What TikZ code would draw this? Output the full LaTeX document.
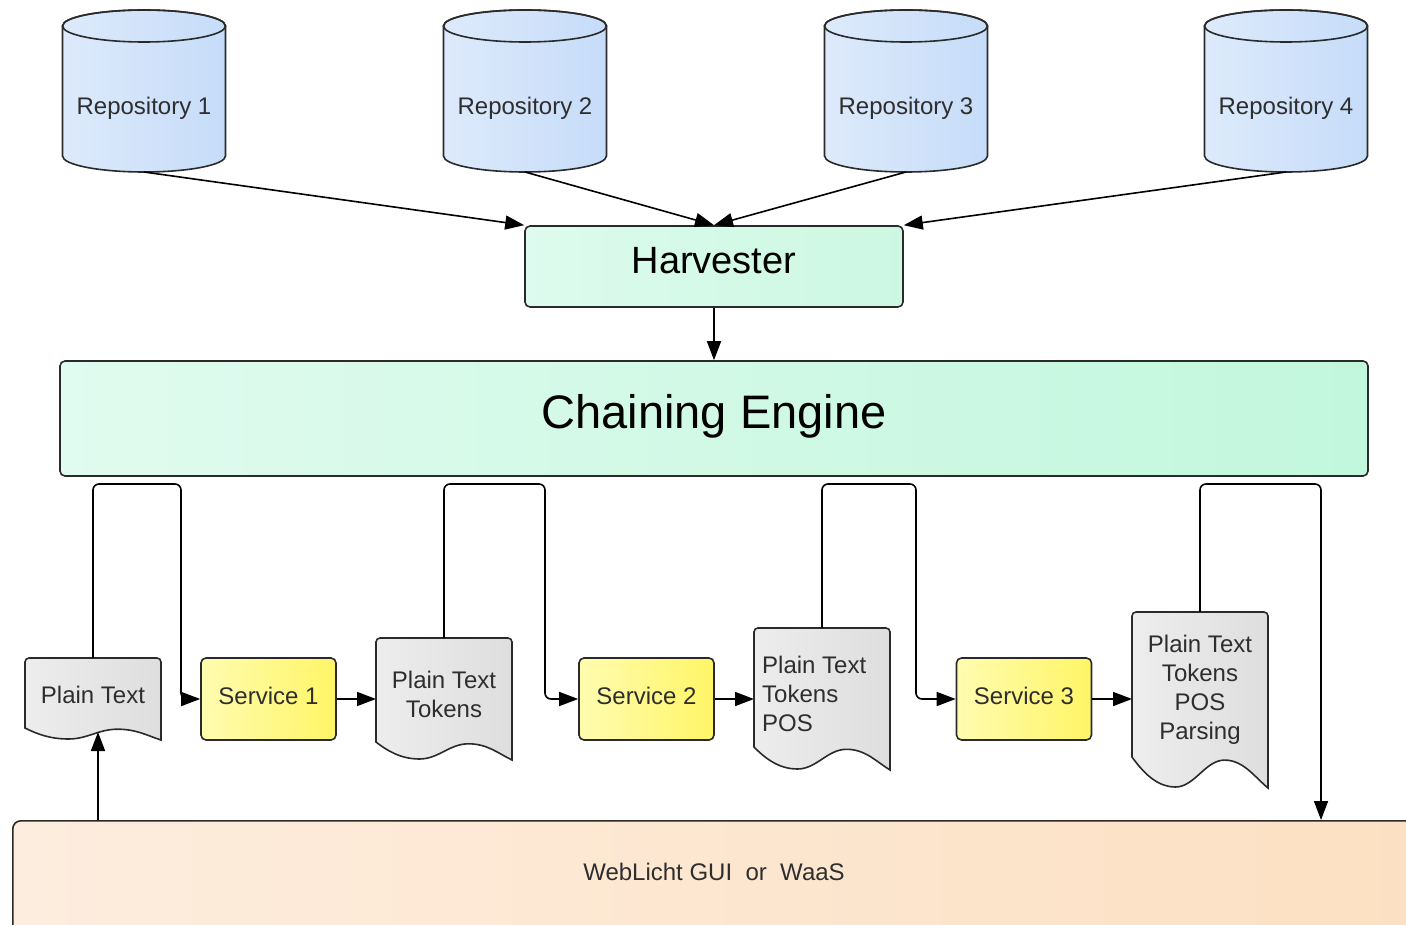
\documentclass[tikz,border=0pt]{standalone}
\usepackage{fontspec}
\setmainfont{Liberation Sans}
\usetikzlibrary{arrows.meta}
\definecolor{bord}{HTML}{2A2A2A}
\definecolor{txtc}{HTML}{2E2E2E}
\definecolor{repoL}{HTML}{DDEAFB}
\definecolor{repoR}{HTML}{C6DCF9}
\definecolor{harvL}{HTML}{DDFBEE}
\definecolor{harvR}{HTML}{CCF8E2}
\definecolor{chainL}{HTML}{E0FBEF}
\definecolor{chainR}{HTML}{C2F7DD}
\definecolor{servL}{HTML}{FFFCB0}
\definecolor{servR}{HTML}{FFF566}
\definecolor{docL}{HTML}{EDEDED}
\definecolor{docR}{HTML}{DEDEDE}
\definecolor{guiL}{HTML}{FDEDDE}
\definecolor{guiR}{HTML}{FCE0C2}
\tikzset{
  txt/.style={text=txtc, font=\fontsize{24}{29}\selectfont, inner sep=0pt},
  boxst/.style={draw=bord, line width=1.6pt, rounded corners=5pt},
  servbox/.style={boxst, left color=servL, right color=servR, minimum width=135pt, minimum height=82pt, txt, text depth=7pt},
  docst/.style={draw=bord, line width=1.6pt, left color=docL, right color=docR},
  repost/.style={draw=bord, line width=1.6pt, left color=repoL, right color=repoR},
  conn/.style={draw=black, line width=1.6pt, rounded corners=6pt},
  arr/.style={conn, -{Triangle[length=19pt,width=14pt]}},
}
\newcommand\repocyl[3]{%
  \path[repost] ({#2-81.5},26) -- ({#2-81.5},156)
     arc[start angle=180,end angle=0,x radius=81.5,y radius=16]
     -- ({#2+81.5},26)
     arc[start angle=0,end angle=-180,x radius=81.5,y radius=16] -- cycle;
  \draw[bord, line width=1.6pt] (#2,26) ellipse[x radius=81.5,y radius=16];
  \node[txt] (#1) at (#2,108) {#3};
  \coordinate (#1b) at (#2,172);
}
\newcommand\docshape[5]{%
  \pgfmathsetmacro\dw{#2-#1}%
  \pgfmathsetmacro\trx{#1+0.32*\dw}%
  \pgfmathsetmacro\pkx{#1+0.68*\dw}%
  \pgfmathsetmacro\tr{#5-1}%
  \pgfmathsetmacro\pk{#4+0.1*(#5-#4)}%
  \path[docst] (#1,#4) [rounded corners=4pt] -- (#1,#3) -- (#2,#3) [sharp corners] -- (#2,#5)
    .. controls ({#2-0.1*\dw},{#5-0.4*(#5-\pk)}) and ({\pkx+0.14*\dw},\pk) .. (\pkx,\pk)
    .. controls ({\pkx-0.14*\dw},\pk) and ({\trx+0.14*\dw},\tr) .. (\trx,\tr)
    .. controls ({\trx-0.14*\dw},\tr) and ({#1+0.08*\dw},{#4+0.5*(\tr-#4)}) .. (#1,#4) -- cycle;
}
\begin{document}
\begin{tikzpicture}[x=1pt,y=-1pt]
\useasboundingbox (0,0) rectangle (1406,925);
\clip (0,0) rectangle (1406,925);

% repositories
\repocyl{r1}{144}{Repository 1}
\repocyl{r2}{525}{Repository 2}
\repocyl{r3}{906}{Repository 3}
\repocyl{r4}{1286}{Repository 4}

% harvester and chaining engine
\node[boxst, left color=harvL, right color=harvR, minimum width=378pt, minimum height=81pt,
      txt, font=\fontsize{38}{44}\selectfont, text=black, text depth=12pt] (harv) at (714,266.5) {Harvester};
\node[boxst, left color=chainL, right color=chainR, minimum width=1308pt, minimum height=115pt,
      txt, font=\fontsize{47}{54}\selectfont, text=black, text depth=14pt] (chain) at (714,418.5) {Chaining Engine};

\draw[arr] (r1b) -- (harv.north west);
\draw[arr] (r2b) -- (harv.north);
\draw[arr] (r3b) -- (harv.north);
\draw[arr] (r4b) -- (harv.north east);
\draw[arr] (harv.south) -- (chain.north);

% GUI
\node[boxst, rounded corners=8pt, left color=guiL, right color=guiR, minimum width=1420pt,
      minimum height=130pt, anchor=north west, inner sep=0pt] (gui) at (12,820) {};
\node[txt] (guilabel) at (714,872) {WebLicht GUI\ \ or\ \ WaaS};

% documents
\docshape{25}{161}{658}{728}{740}
\node[txt] (d1) at (93,695) {Plain Text};
\docshape{376}{512}{638}{742}{760}
\node[txt, align=center] (d2) at (444,694.5) {Plain Text\\Tokens};
\docshape{754}{890}{628}{747}{770}
\node[txt, align=left, anchor=west] (d3) at (762,694) {Plain Text\\Tokens\\POS};
\docshape{1132}{1268}{612}{757}{788}
\node[txt, align=center] (d4) at (1200,689.5) {Plain Text\\Tokens\\POS\\Parsing};

% services
\node[servbox] (s1) at (268.5,699) {Service 1};
\node[servbox] (s2) at (646.5,699) {Service 2};
\node[servbox] (s3) at (1024,699) {Service 3};

% named connector points
\coordinate (d1top) at (93,658);
\coordinate (d2top) at (444,638);
\coordinate (d3top) at (822,628);
\coordinate (d4top) at (1200,612);
\coordinate (d2left) at (376,699);
\coordinate (d3left) at (754,699);
\coordinate (d4left) at (1132,699);
\coordinate (l1) at (181,484);
\coordinate (l2) at (545,484);
\coordinate (l3) at (916,484);
\coordinate (l4) at (1321,484);
\coordinate (gin) at (1321,820);
\coordinate (gout) at (98,820);
\coordinate (d1bot) at (98,732);

% loops
\draw[arr] (d1top) |- (l1) |- (s1.west);
\draw[arr] (d2top) |- (l2) |- (s2.west);
\draw[arr] (d3top) |- (l3) |- (s3.west);
\draw[arr] (d4top) |- (l4) -- (gin);

\draw[arr] (s1.east) -- (d2left);
\draw[arr] (s2.east) -- (d3left);
\draw[arr] (s3.east) -- (d4left);
\draw[arr] (gout) -- (d1bot);
\end{tikzpicture}
\end{document}
